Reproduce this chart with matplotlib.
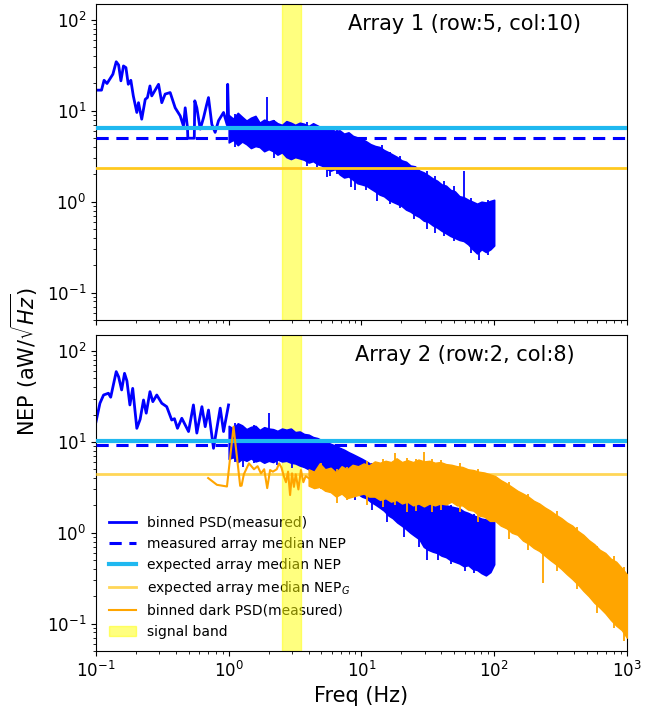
import matplotlib
matplotlib.use("Agg")
import matplotlib.pyplot as plt

# ---------------- Array 1 (top panel) ----------------
# low-frequency binned PSD (Hz, aW/rtHz)
a1_freq = [0.100, 0.110, 0.115, 0.121, 0.134, 0.142, 0.148, 0.154, 0.161, 0.168,
           0.175, 0.183, 0.191, 0.203, 0.209, 0.221, 0.235, 0.244, 0.255, 0.263,
           0.296, 0.313, 0.332, 0.362, 0.395, 0.431, 0.456, 0.470, 0.489, 0.492,
           0.550, 0.555, 0.575, 0.610, 0.646, 0.680, 0.704, 0.746, 0.790, 0.838,
           0.914, 0.975, 0.982, 1.000]
a1_nep = [16.9, 16.9, 21.7, 20.0, 25.3, 34.7, 32.0, 21.4, 31.2, 29.9,
          19.6, 21.7, 14.6, 9.6, 12.3, 8.1, 13.4, 14.0, 18.8, 14.6,
          19.6, 12.3, 15.3, 15.9, 10.8, 8.8, 6.8, 10.8, 6.5, 5.0,
          5.0, 12.9, 10.8, 6.3, 8.4, 11.5, 14.0, 7.1, 5.8, 7.8,
          9.6, 7.0, 19.6, 7.1]

# frequency grid of the unbinned part (1 - 100 Hz)
band_freq = [1.00, 1.08, 1.17, 1.26, 1.36, 1.47, 1.59, 1.71, 1.85, 2.00,
             2.16, 2.33, 2.52, 2.72, 2.94, 3.17, 3.43, 3.70, 4.00, 4.32,
             4.66, 5.03, 5.44, 5.87, 6.34, 6.85, 7.40, 7.99, 8.63, 9.32,
             10.1, 10.9, 11.7, 12.7, 13.7, 14.8, 16.0, 17.2, 18.6, 20.1,
             21.7, 23.4, 25.3, 27.3, 29.5, 31.9, 34.5, 37.2, 40.2, 43.4,
             46.9, 50.6, 54.7, 59.0, 63.8, 68.9, 74.4, 80.3, 86.7, 93.7, 100]

# upper / lower envelope of the unbinned PSD, array 1
a1_band_hi = [9.0, 8.2, 9.5, 8.6, 7.8, 8.4, 8.8, 7.4, 8.0, 7.6,
              7.9, 7.3, 7.0, 7.7, 7.4, 7.0, 7.4, 7.2, 6.8, 7.3,
              6.9, 6.5, 6.6, 6.3, 6.0, 6.1, 5.6, 5.8, 5.3, 5.1,
              4.9, 4.6, 4.3, 4.1, 4.0, 3.7, 3.5, 3.3, 3.1, 2.85,
              2.75, 2.5, 2.45, 2.2, 2.1, 1.95, 1.8, 1.7, 1.55, 1.5,
              1.35, 1.3, 1.15, 1.12, 1.05, 1.0, 0.95, 1.0, 0.98, 1.02, 1.05]
a1_band_lo = [4.5, 4.8, 4.2, 4.6, 4.3, 3.9, 4.1, 4.0, 3.6, 3.8,
              3.6, 3.3, 3.5, 3.1, 2.95, 3.1, 3.0, 2.9, 2.7, 2.8,
              2.6, 2.5, 2.3, 2.2, 2.3, 2.0, 1.85, 1.9, 1.75, 1.6,
              1.55, 1.5, 1.4, 1.3, 1.2, 1.15, 1.05, 1.0, 0.95, 0.9,
              0.82, 0.78, 0.72, 0.68, 0.62, 0.6, 0.55, 0.52, 0.48, 0.45,
              0.42, 0.4, 0.38, 0.37, 0.34, 0.3, 0.27, 0.3, 0.28, 0.3, 0.33]
# narrow spikes (freq, bottom, top)
a1_spike_freq = [1.12, 1.94, 2.2, 3.9, 4.6, 5.5, 5.75, 6.6, 8.3, 9.0, 10.8, 13.0,
                 14.2, 16.5, 19.5, 25.0, 31.0, 36.0, 42.0, 50.0, 59.0, 67.0, 77.0, 90.0]
a1_spike_lo = [4.0, 5.0, 3.0, 2.5, 2.4, 1.85, 1.9, 2.0, 1.45, 1.33, 1.35, 1.03,
               1.15, 0.95, 0.85, 0.65, 0.5, 0.45, 0.42, 0.37, 1.0, 0.27, 0.23, 0.26]
a1_spike_hi = [9.3, 14.2, 7.9, 7.5, 6.9, 4.0, 4.0, 6.3, 3.0, 3.0, 4.6, 2.5,
               4.2, 3.5, 3.2, 2.5, 2.2, 1.9, 1.7, 1.5, 2.2, 1.1, 0.9, 1.05]

a1_measured_median = 5.0
a1_expected_median = 6.4
a1_expected_nep_g = 2.34

# ---------------- Array 2 (bottom panel) ----------------
a2_freq = [0.100, 0.107, 0.114, 0.124, 0.129, 0.142, 0.148, 0.156, 0.164, 0.171,
           0.180, 0.189, 0.203, 0.215, 0.228, 0.239, 0.255, 0.268, 0.287, 0.313,
           0.341, 0.372, 0.390, 0.411, 0.443, 0.498, 0.542, 0.575, 0.628, 0.665,
           0.704, 0.768, 0.863, 0.914, 0.997]
a2_nep = [16.7, 26.6, 32.8, 34.3, 31.0, 59.3, 52.0, 37.3, 56.8, 46.8,
          25.5, 38.8, 14.1, 17.7, 28.9, 20.7, 35.7, 27.7, 32.8, 26.6,
          24.4, 17.4, 18.0, 14.1, 18.2, 13.0, 25.5, 12.5, 24.4, 14.7,
          22.4, 8.5, 23.5, 13.0, 25.5]
a2_band_hi = [15.0, 14.0, 16.0, 15.2, 13.8, 14.6, 15.0, 13.5, 14.5, 14.0,
              13.8, 13.2, 14.0, 13.6, 14.0, 12.8, 13.0, 12.2, 12.0, 11.3,
              11.0, 10.4, 10.0, 9.5, 9.1, 8.6, 8.2, 7.7, 7.3, 6.9,
              6.5, 6.1, 5.7, 5.3, 5.0, 4.7, 4.4, 4.0, 3.8, 3.5,
              3.3, 3.05, 2.9, 2.65, 2.5, 2.4, 2.3, 2.15, 2.1, 2.0,
              1.95, 1.9, 1.85, 1.72, 1.65, 1.56, 1.5, 1.43, 1.4, 1.36, 1.33]
a2_band_lo = [6.5, 6.8, 6.0, 6.5, 6.2, 6.6, 6.1, 6.3, 5.9, 6.2,
              6.0, 6.4, 6.1, 6.2, 5.9, 5.8, 5.5, 5.3, 5.0, 4.9,
              4.6, 4.5, 4.1, 4.0, 3.7, 3.5, 3.3, 3.1, 2.9, 2.7,
              2.5, 2.4, 2.2, 2.05, 1.9, 1.75, 1.55, 1.45, 1.3, 1.2,
              1.1, 1.0, 0.92, 0.85, 0.7, 0.65, 0.62, 0.6, 0.56, 0.54,
              0.5, 0.48, 0.46, 0.43, 0.44, 0.4, 0.39, 0.36, 0.34, 0.37, 0.45]
a2_spike_freq = [1.12, 1.29, 1.55, 2.0, 2.3, 3.0, 4.2, 5.2, 7.0, 9.0, 12.0, 15.5,
                 21.0, 27.0, 31.0, 38.0, 47.0, 60.0, 70.0, 88.0]
a2_spike_lo = [6.0, 5.35, 5.8, 10.0, 5.5, 5.2, 4.3, 3.6, 3.0, 2.3, 1.8, 1.3,
               0.9, 0.7, 0.5, 0.5, 0.45, 0.38, 0.36, 0.34]
a2_spike_hi = [16.0, 10.0, 15.5, 20.6, 13.0, 14.0, 11.5, 10.0, 8.5, 7.0, 5.8, 4.6,
               3.4, 2.7, 1.5, 2.2, 2.0, 1.2, 1.6, 1.0]

a2_measured_median = 9.3
a2_expected_median = 10.2
a2_expected_nep_g = 4.45

# dark PSD (array 2), binned low-frequency part
dark_freq = [0.70, 0.815, 0.97, 1.087, 1.22, 1.25, 1.30, 1.42, 1.55, 1.65,
             1.75, 1.85, 1.95, 2.05, 2.15, 2.30, 2.40, 2.50, 2.60, 2.70,
             2.80, 2.90, 3.00, 3.10, 3.20, 3.35, 3.50, 3.65, 3.80, 4.00]
dark_nep = [4.0, 3.37, 3.23, 14.7, 3.28, 3.3, 4.4, 5.8, 5.0, 5.4,
            4.5, 5.0, 3.1, 4.9, 4.7, 5.0, 5.8, 5.2, 4.2, 3.6,
            4.7, 2.6, 4.5, 3.2, 4.4, 3.0, 4.9, 3.6, 4.2, 4.0]
# dark PSD unbinned part (4 - 1000 Hz)
dark_band_freq = [4.0, 4.4, 4.84, 5.32, 5.86, 6.44, 7.09, 7.79, 8.57, 9.43,
                  10.4, 11.4, 12.6, 13.8, 15.2, 16.7, 18.4, 20.2, 22.2, 24.5,
                  26.9, 29.6, 32.6, 35.8, 39.4, 43.4, 47.7, 52.5, 57.7, 63.5,
                  69.8, 76.8, 84.5, 92.9, 102, 112, 124, 136, 150, 165,
                  181, 199, 219, 241, 265, 292, 321, 353, 388, 427,
                  470, 517, 568, 625, 688, 756, 832, 915, 1000]
dark_band_hi = [5.0, 4.7, 5.8, 5.0, 5.2, 4.6, 5.4, 5.0, 5.6, 5.4,
                5.8, 5.5, 6.1, 5.9, 6.2, 6.0, 6.6, 6.0, 6.3, 6.0,
                6.4, 6.1, 6.2, 5.9, 6.0, 5.7, 5.6, 5.4, 5.3, 5.0,
                4.9, 4.7, 4.6, 4.4, 4.2, 3.8, 3.5, 3.2, 2.9, 2.7,
                2.5, 2.25, 2.1, 1.9, 1.75, 1.58, 1.45, 1.3, 1.2, 1.05,
                0.95, 0.83, 0.75, 0.65, 0.6, 0.52, 0.48, 0.41, 0.35]
dark_band_lo = [3.3, 3.1, 3.2, 2.9, 2.8, 2.5, 2.7, 2.4, 2.5, 2.6,
                2.7, 2.5, 2.5, 2.3, 2.4, 2.2, 2.3, 2.1, 2.2, 2.0,
                2.1, 1.95, 2.1, 2.0, 2.1, 2.05, 2.2, 2.0, 2.0, 1.8,
                1.75, 1.55, 1.5, 1.35, 1.35, 1.2, 1.12, 1.0, 0.95, 0.82,
                0.76, 0.68, 0.63, 0.56, 0.5, 0.45, 0.4, 0.35, 0.31, 0.27,
                0.23, 0.2, 0.17, 0.15, 0.13, 0.11, 0.095, 0.085, 0.07]
dark_spike_freq = [5.0, 6.5, 7.8, 11.0, 14.5, 18.0, 22.0, 26.0, 29.5, 34.0, 40.0,
                   55.0, 75.0, 130.0, 180.0, 232.0, 300.0, 420.0, 600.0, 800.0, 960.0]
dark_spike_lo = [3.0, 2.1, 2.3, 2.0, 1.9, 2.0, 1.7, 1.75, 2.0, 1.7, 1.8,
                 1.7, 1.3, 0.85, 0.65, 0.28, 0.38, 0.24, 0.13, 0.09, 0.065]
dark_spike_hi = [5.8, 5.0, 5.3, 6.2, 6.5, 7.5, 6.6, 6.5, 7.8, 6.5, 6.3,
                 5.8, 5.0, 3.6, 2.7, 1.9, 1.75, 1.15, 0.72, 0.56, 0.42]

signal_band = (2.5, 3.5)

panels = [
    dict(title="Array 1 (row:5, col:10)", freq=a1_freq, nep=a1_nep,
         bhi=a1_band_hi, blo=a1_band_lo,
         sf=a1_spike_freq, slo=a1_spike_lo, shi=a1_spike_hi,
         meas=a1_measured_median, exp=a1_expected_median, nepg=a1_expected_nep_g,
         g_alpha=1.0),
    dict(title="Array 2 (row:2, col:8)", freq=a2_freq, nep=a2_nep,
         bhi=a2_band_hi, blo=a2_band_lo,
         sf=a2_spike_freq, slo=a2_spike_lo, shi=a2_spike_hi,
         meas=a2_measured_median, exp=a2_expected_median, nepg=a2_expected_nep_g,
         g_alpha=0.75),
]

fig = plt.figure(figsize=(6.59, 7.09), dpi=100)
ax_top = fig.add_axes([0.1457, 0.5487, 0.8055, 0.4457])
ax_bot = fig.add_axes([0.1457, 0.0818, 0.8055, 0.4457], sharex=ax_top)

blue = "#0000ff"
cyan = "#1fb8f0"
gold = "#ffc91f"
orange = "#ffa500"

for ax, p in zip([ax_top, ax_bot], panels):
    ax.set_xscale("log")
    ax.set_yscale("log")
    ax.axvspan(signal_band[0], signal_band[1], color="yellow", alpha=0.5,
               label="signal band", zorder=1)
    ax.plot(p["freq"], p["nep"], color=blue, lw=2, label="binned PSD(measured)", zorder=2)
    ax.fill_between(band_freq, p["blo"], p["bhi"], color=blue, lw=1.2,
                    edgecolor=blue, zorder=2)
    ax.vlines(p["sf"], p["slo"], p["shi"], color=blue, lw=1.3, zorder=2)
    ax.axhline(p["meas"], color=blue, ls="--", lw=2.2, dashes=(4, 2.5),
               label="measured array median NEP", zorder=3)
    ax.axhline(p["exp"], color=cyan, lw=3, label="expected array median NEP", zorder=3)
    ax.axhline(p["nepg"], color=gold, lw=2, alpha=p["g_alpha"],
               label="expected array median NEP$_G$", zorder=3)
    ax.text(0.695, 0.937, p["title"], transform=ax.transAxes, ha="center",
            va="center", fontsize=15)
    ax.set_xlim(0.1, 1000)
    ax.set_ylim(0.05, 150)
    ax.tick_params(labelsize=12)

# dark PSD only measured for array 2
ax_bot.plot(dark_freq, dark_nep, color=orange, lw=1.5, zorder=4,
            label="binned dark PSD(measured)")
ax_bot.fill_between(dark_band_freq, dark_band_lo, dark_band_hi, color=orange,
                    edgecolor=orange, lw=1, zorder=4)
ax_bot.vlines(dark_spike_freq, dark_spike_lo, dark_spike_hi, color=orange,
              lw=1.3, zorder=4)

plt.setp(ax_top.get_xticklabels(), visible=False)
ax_bot.set_xlabel("Freq (Hz)", fontsize=15)
fig.text(0.037, 0.491, r"NEP (aW/$\sqrt{Hz}$)", rotation=90, ha="center",
         va="center", fontsize=15)

handles, labels = ax_bot.get_legend_handles_labels()
want = ["binned PSD(measured)", "measured array median NEP",
        "expected array median NEP", "expected array median NEP$_G$",
        "binned dark PSD(measured)", "signal band"]
leg = ax_bot.legend([handles[labels.index(w)] for w in want], want,
                    loc="lower left", frameon=False, fontsize=10)
leg.set_zorder(0.5)

fig.savefig("out.png", dpi=100)
